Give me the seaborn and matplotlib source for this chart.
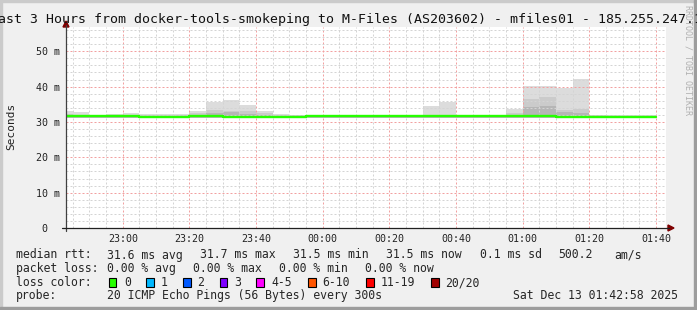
import matplotlib
matplotlib.use("Agg")
import matplotlib.pyplot as plt
import matplotlib.transforms as mtransforms
from matplotlib.patches import Rectangle, Polygon
from matplotlib.lines import Line2D
import numpy as np
import pandas as pd
import seaborn as sns

# ---------------- data ----------------
title = "Last 3 Hours from docker-tools-smokeping to M-Files (AS203602) - mfiles01 - 185.255.247.1"
start_time = "22:42:58"
end_time = "01:42:58"
data_end = "01:40"

bin_starts = ["22:40", "22:45", "22:50", "22:55", "23:00", "23:05", "23:10", "23:15",
              "23:20", "23:25", "23:30", "23:35", "23:40", "23:45", "23:50", "23:55",
              "00:00", "00:05", "00:10", "00:15", "00:20", "00:25", "00:30", "00:35",
              "00:40", "00:45", "00:50", "00:55", "01:00", "01:05", "01:10", "01:15",
              "01:20", "01:25", "01:30", "01:35"]
median_ms = [31.7, 31.7, 31.7, 31.7, 31.7, 31.5, 31.5, 31.5,
             31.6, 31.7, 31.5, 31.5, 31.5, 31.5, 31.5, 31.6,
             31.6, 31.6, 31.6, 31.6, 31.6, 31.6, 31.6, 31.6,
             31.6, 31.6, 31.6, 31.6, 31.7, 31.7, 31.5, 31.5,
             31.5, 31.4, 31.4, 31.4]
smoke_min = [31.2] * 36
smoke_core = [31.9, 31.9, 31.8, 31.8, 31.9, 31.7, 31.7, 31.7,
              31.9, 32.6, 32.7, 32.3, 31.9, 31.7, 31.7, 31.7,
              31.7, 31.7, 31.7, 31.7, 31.7, 31.7, 31.8, 31.8,
              31.7, 31.7, 31.7, 32.0, 34.3, 34.5, 32.9, 32.4,
              31.7, 31.6, 31.6, 31.6]
smoke_mid = [32.2, 32.1, 31.9, 32.0, 32.1, 31.9, 31.9, 31.9,
             32.4, 33.3, 33.2, 33.0, 32.4, 31.9, 31.9, 31.8,
             31.8, 31.8, 31.8, 31.8, 31.8, 31.8, 32.0, 32.1,
             31.8, 31.8, 31.8, 32.6, 36.6, 37.1, 33.5, 33.8,
             31.9, 31.8, 31.8, 31.8]
smoke_max = [33.0, 32.7, 32.0, 32.2, 32.5, 32.2, 32.2, 32.2,
             33.0, 35.6, 36.2, 34.8, 33.0, 32.2, 32.1, 31.9,
             31.9, 31.9, 31.9, 31.9, 31.9, 31.9, 34.5, 35.7,
             31.9, 31.9, 31.9, 33.6, 40.1, 40.1, 39.6, 42.1,
             32.1, 32.1, 32.0, 32.0]

x_tick_labels = ["23:00", "23:20", "23:40", "00:00", "00:20", "00:40", "01:00", "01:20", "01:40"]
y_tick_values = [0, 10, 20, 30, 40, 50]
y_tick_labels = ["0", "10 m", "20 m", "30 m", "40 m", "50 m"]

rtt_stats = ["31.6 ms avg", "31.7 ms max", "31.5 ms min", "31.5 ms now", "0.1 ms sd", "500.2", "am/s"]
loss_stats = ["0.00 % avg", "0.00 % max", "0.00 % min", "0.00 % now"]
loss_labels = ["0", "1", "2", "3", "4-5", "6-10", "11-19", "20/20"]
loss_colors = ["#26ff00", "#00b8ff", "#0059ff", "#7e00ff", "#ff00ff", "#ff5500", "#ff0000", "#a00000"]
probe_text = "20 ICMP Echo Pings (56 Bytes) every 300s"
timestamp = "Sat Dec 13 01:42:58 2025"

# ---------------- layout ----------------
W, H = 697, 310
sns.set_style("white")
plt.rcParams["font.family"] = ["DejaVu Sans Mono"]

def fx(x):
    return x / W

def fy(y):
    return 1 - y / H

def clock(t):
    p = [int(v) for v in t.split(":")]
    while len(p) < 3:
        p.append(0)
    return p[0] * 60 + p[1] + p[2] / 60.0

T0 = clock(start_time)

def rel(t):
    return ((clock(t) - T0 + 720) % 1440) - 720

fig = plt.figure(figsize=(W / 100, H / 100), dpi=100, facecolor="#f0f0f0")
L, R, T, B = 66, 666, 27, 228
ax = fig.add_axes([fx(L), fy(B), (R - L) / W, (B - T) / H])
ax.set_facecolor("white")
ax.set_xlim(0, rel(end_time))
ax.set_ylim(0, (B - T) / 3.535)

starts = np.array([rel(t) for t in bin_starts])
df = pd.DataFrame({"start": starts, "median": median_ms, "mn": smoke_min,
                   "core": smoke_core, "mid": smoke_mid, "mx": smoke_max})

# smoke layers
ax.bar(df["start"], df["mx"] - df["mn"], bottom=df["mn"], width=5, align="edge",
       color="#dcdcdc", linewidth=0, zorder=1)
ax.bar(df["start"], df["mid"] - df["mn"], bottom=df["mn"], width=5, align="edge",
       color="#cbcbcb", linewidth=0, zorder=1.1)
ax.bar(df["start"], df["core"] - df["mn"], bottom=df["mn"], width=5, align="edge",
       color="#b6b6b6", linewidth=0, zorder=1.2)

# median line (step)
line_df = pd.DataFrame({"x": list(starts) + [rel(data_end)],
                        "y": list(median_ms) + [median_ms[-1]]})
sns.lineplot(data=line_df, x="x", y="y", drawstyle="steps-post", color="#26ff00",
             linewidth=1.7, ax=ax, legend=False, zorder=3, estimator=None, sort=False)

# grid
major_x = [rel(t) for t in x_tick_labels]
minor_x = [v for v in starts if v > 0] + [rel(data_end)]
ax.set_xticks(major_x)
ax.set_xticks(minor_x, minor=True)
ax.set_yticks(y_tick_values)
ax.set_yticks(np.arange(0, 57, 2), minor=True)
ax.set_xticklabels([])
ax.set_yticklabels([])
ax.set_xlabel("")
ax.set_ylabel("")
ax.grid(which="minor", color="#d4d4d4", linestyle=(0, (2, 2)), linewidth=0.72, zorder=2)
ax.grid(which="major", color="#f2a0a0", linestyle=(0, (2, 2)), linewidth=0.72, zorder=2.1)
ax.set_axisbelow(False)
ax.tick_params(axis="both", which="major", length=2.5, width=0.72, direction="inout",
               color="#404040")
ax.tick_params(axis="both", which="minor", length=1.4, width=0.72, direction="inout",
               color="#404040")
for s in ax.spines.values():
    s.set_visible(False)

# axis lines and arrows
fig.add_artist(Line2D([fx(66), fx(66)], [fy(231), fy(25)], color="#404040", lw=0.9,
                      transform=fig.transFigure))
fig.add_artist(Line2D([fx(62), fx(669)], [fy(228), fy(228)], color="#202020", lw=0.9,
                      transform=fig.transFigure))
fig.add_artist(Polygon([[fx(63), fy(27)], [fx(69), fy(27)], [fx(66), fy(21)]],
                       closed=True, color="#7f0000", transform=fig.transFigure))
fig.add_artist(Polygon([[fx(668), fy(225)], [fx(668), fy(231)], [fx(674), fy(228)]],
                       closed=True, color="#7f0000", transform=fig.transFigure))

# tick labels
ytrans = mtransforms.blended_transform_factory(fig.transFigure, ax.transData)
for v, lab in zip(y_tick_values, y_tick_labels):
    txt = lab if " " in lab else f"{lab:>2}"
    ax.text(fx(36), v, txt, transform=ytrans, ha="left", va="center_baseline",
            fontsize=7.2, color="#222222")
xtrans = mtransforms.blended_transform_factory(ax.transData, fig.transFigure)
for lab in x_tick_labels:
    ax.text(rel(lab), fy(233.5), lab, transform=xtrans, ha="center", va="top",
            fontsize=7.2, color="#222222")

# title, axis label, watermark
fig.text(fx(346), fy(23.5), title, ha="center", va="baseline", fontsize=9.5, color="#111111")
fig.text(fx(11), fy(126), "Seconds", rotation=90, ha="center", va="center",
         fontsize=8, color="#222222")
fig.text(fx(688), fy(5), "RRDTOOL / TOBI OETIKER", rotation=270, ha="center", va="top",
         fontsize=6, color="#b0b0b0")

# legend area
fs = 8.3
rows = [258.5, 271.8, 286.0, 299.3]
fig.text(fx(16), fy(rows[0]), "median rtt:", fontsize=fs, va="baseline")
for xp, s in zip([107, 200, 293, 386, 480, 558, 614], rtt_stats):
    fig.text(fx(xp), fy(rows[0]), s, fontsize=fs, va="baseline")
fig.text(fx(16), fy(rows[1]), "packet loss:", fontsize=fs, va="baseline")
for xp, s in zip([107, 193, 279, 365], loss_stats):
    fig.text(fx(xp), fy(rows[1]), s, fontsize=fs, va="baseline")
fig.text(fx(16), fy(rows[2]), "loss color:", fontsize=fs, va="baseline")
sq_x = [108.5, 146, 183, 219.5, 256, 308, 366, 431]
lab_x = [124, 161, 197.5, 234.5, 271, 322.5, 380.5, 445]
for sx, lx, c, lab in zip(sq_x, lab_x, loss_colors, loss_labels):
    fig.add_artist(Rectangle((fx(sx), fy(286.5)), 7.5 / W, 8.5 / H, facecolor=c,
                             edgecolor="black", linewidth=0.8, transform=fig.transFigure))
    fig.text(fx(lx), fy(rows[2]), lab, fontsize=fs, va="baseline")
fig.text(fx(16), fy(rows[3]), "probe:", fontsize=fs, va="baseline")
fig.text(fx(107), fy(rows[3]), probe_text, fontsize=fs, va="baseline")
fig.text(fx(513), fy(rows[3]), timestamp, fontsize=fs, va="baseline")

# frame
fig.add_artist(Rectangle((0, fy(310)), 2 / W, 1, color="#cbcbcb", transform=fig.transFigure))
fig.add_artist(Rectangle((0, fy(2)), 1, 2 / H, color="#cbcbcb", transform=fig.transFigure))
fig.add_artist(Rectangle((fx(694), 0), 3 / W, 1, color="#9d9d9d", transform=fig.transFigure))
fig.add_artist(Rectangle((0, 0), 1, 3 / H, color="#9d9d9d", transform=fig.transFigure))

fig.savefig("out.png", dpi=100, facecolor=fig.get_facecolor())
